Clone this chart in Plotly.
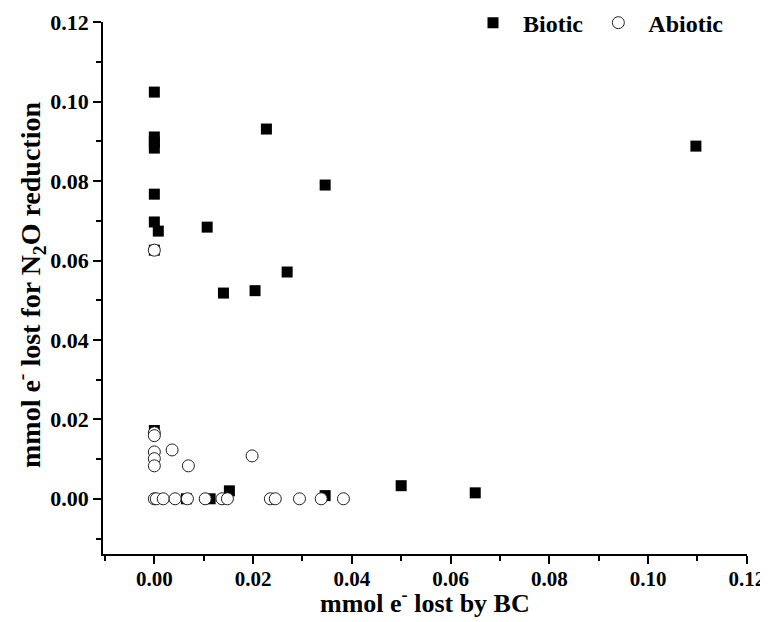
import plotly.graph_objects as go

# Biotic (filled squares)
biotic_x = [0.0, 0.0, 0.0, 0.0, 0.0, 0.0, 0.0008, 0.0107, 0.0227, 0.0140, 0.0204,
            0.0346, 0.0269, 0.1097, 0.0500, 0.0650, 0.0, 0.0152, 0.0346, 0.0065,
            0.0113, 0.0]
biotic_y = [0.1024, 0.0911, 0.0898, 0.0883, 0.0767, 0.0697, 0.0674, 0.0684, 0.0931,
            0.0518, 0.0524, 0.0790, 0.0571, 0.0888, 0.0033, 0.0015, 0.0172, 0.0020,
            0.0008, 0.0, 0.0, 0.0626]

# Abiotic (open circles)
abiotic_x = [0.0, 0.0, 0.0, 0.0, 0.0036, 0.0, 0.0, 0.0069, 0.0198,
             0.0, 0.0004, 0.0018, 0.0042, 0.0067, 0.0103, 0.0137, 0.0148,
             0.0235, 0.0245, 0.0294, 0.0338, 0.0383]
abiotic_y = [0.0626, 0.0166, 0.0159, 0.0118, 0.0123, 0.0101, 0.0083, 0.0083, 0.0108,
             0.0, 0.0, 0.0, 0.0, 0.0, 0.0, 0.0, 0.0,
             0.0, 0.0, 0.0, 0.0, 0.0]

tick_vals = [0.0, 0.02, 0.04, 0.06, 0.08, 0.10, 0.12]
tick_text = ["0.00", "0.02", "0.04", "0.06", "0.08", "0.10", "0.12"]

FONT = "Liberation Serif"

fig = go.Figure()
fig.add_trace(go.Scatter(
    x=biotic_x, y=biotic_y, mode="markers", name="Biotic",
    marker=dict(symbol="square", size=11, color="black", line=dict(width=0)),
))
fig.add_trace(go.Scatter(
    x=abiotic_x, y=abiotic_y, mode="markers", name="Abiotic",
    marker=dict(symbol="circle", size=12, color="white",
                line=dict(color="#222222", width=1)),
))

axis_common = dict(
    showgrid=False, zeroline=False, showline=True, linecolor="black", linewidth=1.8,
    ticks="outside", ticklen=8, tickwidth=1.8, tickcolor="black", automargin=False,
    ticklabeloverflow="allow",
    tickvals=tick_vals, ticktext=tick_text,
    minor=dict(ticks="outside", ticklen=5, tickwidth=1.8, tickcolor="black", dtick=0.01),
)

fig.update_xaxes(range=[-0.0104, 0.12005], ticklabelstandoff=-3,
                 tickfont=dict(family=FONT, size=21, color="black", weight="bold"),
                 **axis_common)
fig.update_yaxes(range=[-0.0139, 0.12005],
                 tickfont=dict(family=FONT, size=22, color="black", weight="bold"),
                 **axis_common)

fig.update_layout(
    width=760, height=614,
    margin=dict(l=95, r=21, t=14, b=68, autoexpand=False),
    paper_bgcolor="white", plot_bgcolor="white",
    showlegend=True,
    legend=dict(orientation="h", x=0.559, y=0.998, xanchor="left", yanchor="middle",
                font=dict(family=FONT, size=24, color="black", weight="bold"),
                bgcolor="rgba(0,0,0,0)", itemwidth=50),
    annotations=[
        dict(text="mmol e<sup>-</sup> lost by BC", xref="paper", yref="paper",
             x=0.5, y=0.0, yshift=-66, xanchor="center", yanchor="bottom",
             showarrow=False, font=dict(family=FONT, size=26, color="black", weight="bold")),
        dict(text="mmol e<sup>-</sup> lost for N<sub>2</sub>O reduction", xref="paper", yref="paper",
             x=0.0, y=0.5, xshift=-73, yshift=3, xanchor="center", yanchor="middle", textangle=-90,
             showarrow=False, font=dict(family=FONT, size=28, color="black", weight="bold")),
    ],
)

fig.write_html("out.html")
